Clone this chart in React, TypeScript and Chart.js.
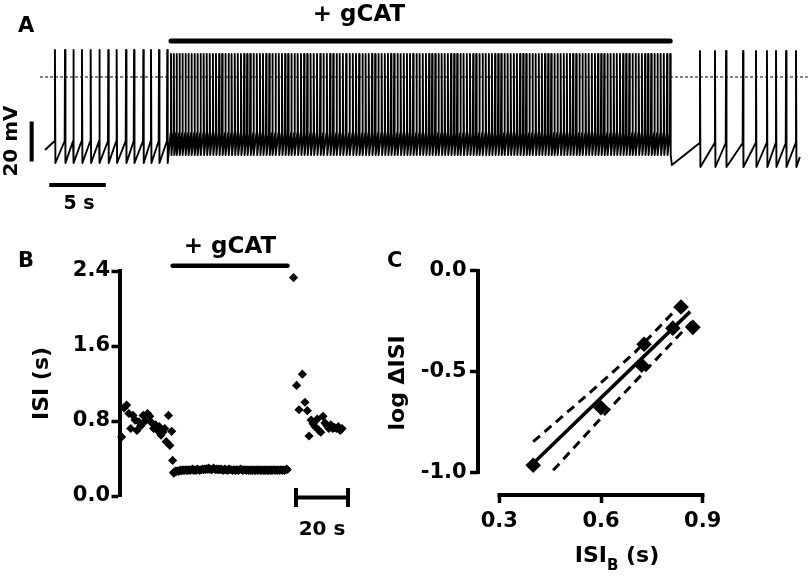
import React, { useEffect, useRef } from "react";
import { Chart, registerables } from "chart.js";

Chart.register(...registerables);

const W = 812;
const H = 580;
const FAMILY = '"DejaVu Sans", "Liberation Sans", Arial, sans-serif';

// ---------- Panel A: membrane potential trace (s, mV) ----------
const preSpikeTimesA = [0.88, 1.77, 2.51, 3.27, 4.04, 4.81, 5.6, 6.34, 7.17, 7.88, 8.7, 9.38, 10.09, 10.82];
const drugOnsetA = 11.15;
const postSpikeTimesA = [57.96, 59.29, 60.27, 61.77, 62.92, 63.89, 64.69, 65.58, 66.46];
const traceStartV = -36.5;
const traceEndT = 66.8;
const traceEndV = -40;
const afterDrugV = -44;
// [threshold, peak, trough] in mV
const preLevels = [-32, 13.5, -43];
const drugLevels = [-28, 11.5, -39];
const postLevels = [-33, 13, -45];

// ---------- Panel B: ISI (s) ----------
const preIsiB = [0.63, 0.94, 0.97, 0.88, 0.72, 0.86, 0.81, 0.7, 0.79, 0.75, 0.86, 0.8, 0.88, 0.85, 0.78, 0.72, 0.76, 0.7, 0.74, 0.65, 0.68, 0.72, 0.58, 0.86, 0.54, 0.69, 0.38];
const drugIsi = [
  0.25, 0.24, 0.26, 0.26, 0.27, 0.26, 0.27, 0.27, 0.26, 0.27, 0.28, 0.27, 0.27, 0.28, 0.27, 0.28, 0.27, 0.28, 0.28, 0.27,
  0.28, 0.27, 0.28, 0.28, 0.27, 0.28, 0.28, 0.29, 0.28, 0.27, 0.28, 0.28, 0.27, 0.28, 0.29, 0.28, 0.28, 0.27, 0.28, 0.28,
  0.28, 0.29, 0.28, 0.28, 0.29, 0.28, 0.29, 0.29, 0.28, 0.3, 0.29, 0.28, 0.29, 0.28, 0.28, 0.29, 0.3, 0.29, 0.28, 0.28,
  0.29, 0.28, 0.28, 0.29, 0.28, 0.28, 0.29, 0.28, 0.28, 0.27, 0.28, 0.29, 0.28, 0.28, 0.28, 0.27, 0.28, 0.29, 0.28, 0.28,
  0.28, 0.28, 0.27, 0.28, 0.28, 0.28, 0.27, 0.28, 0.28, 0.28, 0.27, 0.28, 0.28, 0.29, 0.28, 0.28, 0.27, 0.28, 0.28, 0.28,
  0.28, 0.27, 0.28, 0.28, 0.27, 0.28, 0.28, 0.27, 0.28, 0.27, 0.28, 0.28, 0.27, 0.28, 0.27, 0.28, 0.28, 0.27, 0.28, 0.28,
  0.27, 0.28, 0.27, 0.28, 0.28, 0.27, 0.28, 0.27, 0.28, 0.28, 0.27, 0.28, 0.27, 0.28, 0.28, 0.27, 0.28, 0.27, 0.28, 0.28,
  0.28, 0.27, 0.28, 0.28, 0.27, 0.28, 0.28, 0.27, 0.28, 0.28, 0.28, 0.27, 0.28, 0.28, 0.27, 0.28, 0.28, 0.29, 0.28,
];
const postIsiB = [2.33, 1.18, 0.92, 1.3, 1.0, 0.91, 0.64, 0.81, 0.77, 0.74, 0.82, 0.7, 0.68, 0.85, 0.78, 0.75, 0.72, 0.76, 0.72, 0.73, 0.72, 0.74, 0.7, 0.72];
const yTicksB = [0, 0.8, 1.6, 2.4];
const scaleBarStartB = 67.7; // s
const scaleBarLenB = 20; // s

// ---------- Panel C: log dISI vs ISI_B ----------
const isiBC = [0.4, 0.6, 0.72, 0.727, 0.812, 0.836, 0.871];
const logDIsiC = [-0.965, -0.68, -0.469, -0.365, -0.285, -0.18, -0.281];
const fitX = [0.395, 0.863];
const fitY = [-0.964, -0.203];
const upperX = [0.4, 0.55, 0.7, 0.853];
const upperY = [-0.848, -0.63, -0.405, -0.137];
const lowerX = [0.459, 0.65, 0.868];
const lowerY = [-0.99, -0.64, -0.253];
const xTicksC = [0.3, 0.6, 0.9];
const yTicksC = [-1.0, -0.5, 0.0];

const sum = (a: number[]) => a.reduce((s, v) => s + v, 0);
const toXY = (xs: number[], ys: number[]) => xs.map((x, i) => ({ x, y: ys[i] }));
const cumPoints = (start: number, isi: number[]) => {
  let t = start;
  return isi.map((v) => {
    t += v;
    return { x: t, y: v };
  });
};

const baseOptions: any = {
  responsive: false,
  animation: false,
  devicePixelRatio: 1,
  events: [],
  plugins: { legend: { display: false }, tooltip: { enabled: false } },
};

const font = (size: number) => `bold ${size}px ${FAMILY}`;

function makeA(canvas: HTMLCanvasElement) {
  const drugTimes = [drugOnsetA];
  for (const d of drugIsi) drugTimes.push(drugTimes[drugTimes.length - 1] + d);
  const drugEnd = drugTimes[drugTimes.length - 1];

  const trace: { x: number; y: number }[] = [{ x: 0, y: traceStartV }];
  const addSpikes = (times: number[], lv: number[]) => {
    for (const t of times) {
      trace.push({ x: t - 0.03, y: lv[0] }, { x: t, y: lv[1] }, { x: t + 0.04, y: lv[2] });
    }
  };
  addSpikes(preSpikeTimesA, preLevels);
  addSpikes(drugTimes, drugLevels);
  trace.push({ x: drugEnd + 0.15, y: afterDrugV });
  addSpikes(postSpikeTimesA, postLevels);
  trace.push({ x: traceEndT, y: traceEndV });

  const pxPerS = 11.3;
  const x0 = 45;
  const zeroPx = 77;
  const pxPerMv = 2;
  const xmin = -x0 / pxPerS;
  const xmax = xmin + W / pxPerS;
  const ymax = zeroPx / pxPerMv;
  const ymin = ymax - H / pxPerMv;

  const line = (data: any[], width: number, extra: any = {}) => ({
    data,
    borderColor: "#000",
    borderWidth: width,
    pointRadius: 0,
    tension: 0,
    fill: false,
    ...extra,
  });

  const textPlugin = {
    id: "textA",
    afterDraw(chart: any) {
      const ctx = chart.ctx;
      ctx.save();
      ctx.fillStyle = "#000";
      ctx.textAlign = "left";
      ctx.textBaseline = "alphabetic";
      ctx.font = font(21);
      ctx.fillText("A", 18, 32);
      ctx.textAlign = "center";
      ctx.font = font(23);
      ctx.fillText("+ gCAT", 359, 21);
      ctx.font = font(19);
      ctx.fillText("5 s", 79, 209);
      ctx.translate(12, 141);
      ctx.rotate(-Math.PI / 2);
      ctx.textBaseline = "middle";
      ctx.font = font(20);
      ctx.fillText("20 mV", 0, 0);
      ctx.restore();
    },
  };

  return new Chart(canvas, {
    type: "line",
    data: {
      datasets: [
        line([{ x: -0.44, y: 0 }, { x: 67.5, y: 0 }], 1, { borderDash: [3, 2] }),
        line(trace, 1.9, { borderJoinStyle: "round" }),
        line([{ x: drugOnsetA, y: 18 }, { x: drugEnd, y: 18 }], 5, { borderCapStyle: "round" }),
        line([{ x: -1.18, y: -22.3 }, { x: -1.18, y: -42.3 }], 4),
        line([{ x: 0.38, y: -54 }, { x: 5.38, y: -54 }], 4),
      ],
    },
    options: {
      ...baseOptions,
      layout: { padding: 0 },
      scales: {
        x: { type: "linear", display: false, min: xmin, max: xmax },
        y: { type: "linear", display: false, min: ymin, max: ymax },
      },
    },
    plugins: [textPlugin],
  } as any);
}

function makeB(canvas: HTMLCanvasElement) {
  const preEnd = sum(preIsiB);
  const drugEndB = preEnd + sum(drugIsi);
  const prePts = cumPoints(0, preIsiB);
  const drugPts = cumPoints(preEnd, drugIsi);
  const postPts = cumPoints(drugEndB, postIsiB);

  const pxPerS = 2.6;
  const t0Px = 120;
  const left = 119.5;
  const right = 380;

  const pts = (data: any[], r: number) => ({
    data,
    pointStyle: "rectRot",
    pointRadius: r,
    backgroundColor: "#000",
    borderColor: "#000",
    borderWidth: 0,
    clip: false,
  });

  const plugin = {
    id: "textB",
    afterDraw(chart: any) {
      const ctx = chart.ctx;
      const xs = chart.scales.x;
      const ys = chart.scales.y;
      ctx.save();
      ctx.fillStyle = "#000";
      ctx.strokeStyle = "#000";
      ctx.font = font(21);
      ctx.textAlign = "left";
      ctx.fillText("B", 18, 267);
      ctx.textAlign = "center";
      ctx.font = font(23);
      ctx.fillText("+ gCAT", 230, 253);
      // 20 s scale bar
      const xa = xs.getPixelForValue(scaleBarStartB);
      const xb = xs.getPixelForValue(scaleBarStartB + scaleBarLenB);
      const yb = ys.getPixelForValue(0) + 1.5;
      ctx.lineWidth = 4;
      ctx.beginPath();
      ctx.moveTo(xa, yb);
      ctx.lineTo(xb, yb);
      ctx.moveTo(xa, yb - 9.5);
      ctx.lineTo(xa, yb + 9.5);
      ctx.moveTo(xb, yb - 9.5);
      ctx.lineTo(xb, yb + 9.5);
      ctx.stroke();
      ctx.font = font(20);
      ctx.fillText("20 s", (xa + xb) / 2, 535);
      ctx.restore();
    },
  };

  return new Chart(canvas, {
    type: "scatter",
    data: {
      datasets: [
        pts(prePts, 4.6),
        pts(drugPts, 4.3),
        pts(postPts, 4.6),
        {
          type: "line",
          data: [{ x: preEnd, y: 2.455 }, { x: drugEndB, y: 2.455 }],
          borderColor: "#000",
          borderWidth: 4.5,
          borderCapStyle: "round",
          pointRadius: 0,
          clip: false,
        },
      ],
    },
    options: {
      ...baseOptions,
      layout: { padding: { left: 0, top: 271, right: W - right, bottom: H - 496 } },
      scales: {
        x: { type: "linear", display: false, min: (left - t0Px) / pxPerS, max: (right - t0Px) / pxPerS },
        y: {
          type: "linear",
          min: 0,
          max: 2.4,
          afterBuildTicks: (s: any) => {
            s.ticks = yTicksB.map((value) => ({ value }));
          },
          afterFit: (s: any) => {
            s.width = left;
          },
          border: { display: true, width: 4, color: "#000" },
          grid: { drawOnChartArea: false, drawTicks: true, tickLength: 8, tickWidth: 3.5, tickColor: "#000" },
          ticks: {
            color: "#000",
            padding: 1.5,
            font: { family: FAMILY, size: 21, weight: "bold" },
            callback: (v: any) => Number(v).toFixed(1),
          },
          title: {
            display: true,
            text: "ISI (s)",
            color: "#000",
            font: { family: FAMILY, size: 22, weight: "bold" },
            padding: { top: 29.3, bottom: 0 },
          },
        },
      },
    },
    plugins: [plugin],
  } as any);
}

function makeC(canvas: HTMLCanvasElement) {
  const left = 478;
  const top = 270.7;
  const bottom = 495;
  const right = 720;
  const pxPerX = 339;
  const pxPerY = 201.6;
  const xmin = 0.3 - (499.3 - left) / pxPerX;
  const xmax = 0.9 + (right - 702.7) / pxPerX;
  const ymin = -1.0 - (bottom - 472.3) / pxPerY;
  const yAxisW = 100;

  const lineDs = (data: any[], width: number, extra: any = {}) => ({
    type: "line",
    data,
    borderColor: "#000",
    borderWidth: width,
    pointRadius: 0,
    tension: 0,
    fill: false,
    ...extra,
  });

  const tickCommon = {
    color: "#000",
    font: { family: FAMILY, size: 21, weight: "bold" },
    callback: (v: any) => Number(v).toFixed(1),
  };
  const gridCommon = { drawOnChartArea: false, drawTicks: true, tickLength: 8, tickWidth: 3.5, tickColor: "#000" };

  const plugin = {
    id: "textC",
    afterDraw(chart: any) {
      const ctx = chart.ctx;
      const xs = chart.scales.x;
      const ys = chart.scales.y;
      const ca = chart.chartArea;
      ctx.save();
      ctx.strokeStyle = "#000";
      ctx.fillStyle = "#000";
      ctx.lineWidth = 4;
      ctx.beginPath();
      ctx.moveTo(ca.left, ys.getPixelForValue(yTicksC[yTicksC.length - 1]) - 1.75);
      ctx.lineTo(ca.left, ys.getPixelForValue(yTicksC[0]) + 1.75);
      ctx.moveTo(xs.getPixelForValue(xTicksC[0]) - 1.75, ca.bottom);
      ctx.lineTo(xs.getPixelForValue(xTicksC[xTicksC.length - 1]) + 1.75, ca.bottom);
      ctx.stroke();

      ctx.textAlign = "left";
      ctx.font = font(21);
      ctx.fillText("C", 387, 267);

      // x-axis title with subscript
      const main = font(22);
      const sub = font(15);
      ctx.font = main;
      const w1 = ctx.measureText("ISI").width;
      const w3 = ctx.measureText(" (s)").width;
      ctx.font = sub;
      const w2 = ctx.measureText("B").width;
      const cx = (xs.getPixelForValue(xTicksC[0]) + xs.getPixelForValue(xTicksC[2])) / 2 + 16;
      let x = cx - (w1 + w2 + w3) / 2;
      const yb = 562;
      ctx.font = main;
      ctx.fillText("ISI", x, yb);
      x += w1;
      ctx.font = sub;
      ctx.fillText("B", x, yb + 8);
      x += w2;
      ctx.font = main;
      ctx.fillText(" (s)", x, yb);
      ctx.restore();
    },
  };

  return new Chart(canvas, {
    type: "scatter",
    data: {
      datasets: [
        lineDs(toXY(upperX, upperY), 3, { borderDash: [9, 6] }),
        lineDs(toXY(lowerX, lowerY), 3, { borderDash: [9, 6] }),
        lineDs(toXY(fitX, fitY), 3.5),
        {
          data: toXY(isiBC, logDIsiC),
          pointStyle: "rectRot",
          pointRadius: 7.8,
          backgroundColor: "#000",
          borderColor: "#000",
          borderWidth: 0,
          clip: false,
        },
      ],
    },
    options: {
      ...baseOptions,
      layout: { padding: { left: left - yAxisW, top, right: W - right, bottom: H - bottom - 40 } },
      scales: {
        x: {
          type: "linear",
          position: "bottom",
          min: xmin,
          max: xmax,
          afterBuildTicks: (s: any) => {
            s.ticks = xTicksC.map((value) => ({ value }));
          },
          afterFit: (s: any) => {
            s.height = 40;
          },
          border: { display: false },
          grid: gridCommon,
          ticks: { ...tickCommon, padding: 6, maxRotation: 0 },
        },
        y: {
          type: "linear",
          min: ymin,
          max: 0,
          afterBuildTicks: (s: any) => {
            s.ticks = yTicksC.map((value) => ({ value }));
          },
          afterFit: (s: any) => {
            s.width = yAxisW;
          },
          border: { display: false },
          grid: gridCommon,
          ticks: { ...tickCommon, padding: 3.3 },
          title: {
            display: true,
            text: "log \u0394ISI",
            color: "#000",
            font: { family: FAMILY, size: 22, weight: "bold" },
            padding: { top: 6.8, bottom: 0 },
          },
        },
      },
    },
    plugins: [plugin],
  } as any);
}

export default function App() {
  const aRef = useRef<HTMLCanvasElement>(null);
  const bRef = useRef<HTMLCanvasElement>(null);
  const cRef = useRef<HTMLCanvasElement>(null);

  useEffect(() => {
    const charts = [makeA(aRef.current!), makeB(bRef.current!), makeC(cRef.current!)];
    return () => charts.forEach((c) => c.destroy());
  }, []);

  const cs: React.CSSProperties = { position: "absolute", left: 0, top: 0, width: W, height: H };
  return (
    <div style={{ position: "absolute", left: 0, top: 0, width: W, height: H, background: "#fff", overflow: "hidden" }}>
      <canvas ref={aRef} width={W} height={H} style={cs} />
      <canvas ref={bRef} width={W} height={H} style={cs} />
      <canvas ref={cRef} width={W} height={H} style={cs} />
    </div>
  );
}
